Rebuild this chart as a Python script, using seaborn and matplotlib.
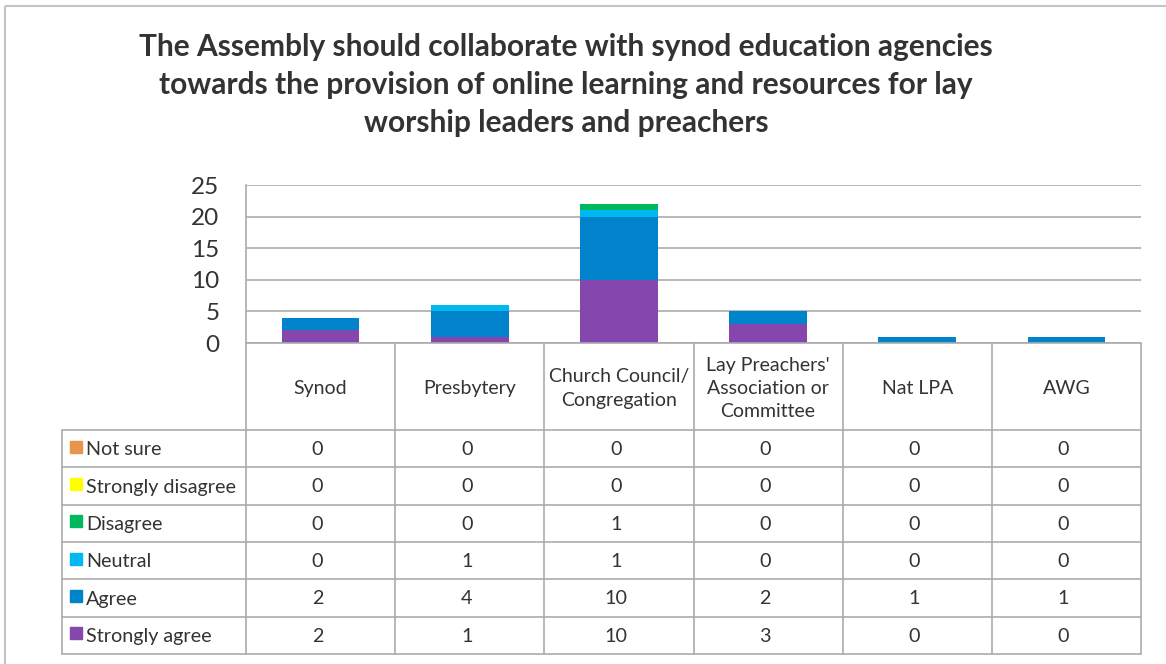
#!/usr/bin/env python3
"""Stacked bar chart with data table: Assembly / synod education agencies survey."""

import matplotlib

matplotlib.use("Agg")
import matplotlib.pyplot as plt
import seaborn as sns
from matplotlib.patches import Rectangle

W, H = 1166, 664

categories = ["Synod", "Presbytery", "Church Council/\nCongregation",
              "Lay Preachers'\nAssociation or\nCommittee", "Nat LPA", "AWG"]

# series in stacking order (bottom first)
strongly_agree = [2, 1, 10, 3, 0, 0]
agree = [2, 4, 10, 2, 1, 1]
neutral = [0, 1, 1, 0, 0, 0]
disagree = [0, 0, 1, 0, 0, 0]
strongly_disagree = [0, 0, 0, 0, 0, 0]
not_sure = [0, 0, 0, 0, 0, 0]

series_names = ["Strongly agree", "Agree", "Neutral", "Disagree",
                "Strongly disagree", "Not sure"]
series_values = [strongly_agree, agree, neutral, disagree,
                 strongly_disagree, not_sure]
series_colors = ["#8547AD", "#0083CA", "#00B8F0", "#00B85C",
                 "#FFFF00", "#E6954B"]

yticks = [0, 5, 10, 15, 20, 25]

title = ("The Assembly should collaborate with synod education agencies\n"
         "towards the provision of online learning and resources for lay\n"
         "worship leaders and preachers")

sns.set_theme(style="white")
plt.rcParams["font.family"] = ["Lato", "DejaVu Sans"]

GRID = "#ABABAB"
TXT = "#333333"

fig = plt.figure(figsize=(W / 100, H / 100), dpi=100)

# plot area in pixel coords
x0, x1 = 246, 1141
y_top, y_zero = 185, 343
ax = fig.add_axes([x0 / W, 1 - y_zero / H, (x1 - x0) / W, (y_zero - y_top) / H])

bottom = [0] * len(categories)
for name, vals, col in zip(series_names, series_values, series_colors):
    sns.barplot(x=list(range(len(categories))), y=vals, bottom=bottom,
                color=col, width=0.52, ax=ax, saturation=1,
                edgecolor="none", linewidth=0)
    bottom = [b + v for b, v in zip(bottom, vals)]

ax.set_xlim(-0.5, len(categories) - 0.5)
ax.set_ylim(0, 25)
ax.set_yticks(yticks)
ax.set_yticklabels([str(t) for t in yticks], fontsize=17.5, color=TXT)
ax.tick_params(axis="y", length=0, pad=19)
ax.set_xticks([])
ax.set_xlabel("")
ax.set_ylabel("")
for t in yticks:
    ax.axhline(t, color=GRID, lw=1.2, zorder=0)
for side in ["top", "right", "bottom"]:
    ax.spines[side].set_visible(False)
ax.spines["left"].set_color(GRID)
ax.spines["left"].set_linewidth(1.2)
ax.set_axisbelow(True)

# data table drawn in pixel coords on an overlay axes
tab = fig.add_axes([0, 0, 1, 1], facecolor="none")
tab.set_xlim(0, W)
tab.set_ylim(H, 0)
tab.axis("off")

label_x0 = 62
header_bottom = 430
row_h = (654 - header_bottom) / 6
col_w = (x1 - x0) / len(categories)
col_edges = [x0 + i * col_w for i in range(len(categories) + 1)]
row_edges = [header_bottom + i * row_h for i in range(7)]

# header row lines
for cx in col_edges:
    tab.plot([cx, cx], [y_zero, 654], color=GRID, lw=1.2)
tab.plot([x0, x1], [y_zero, y_zero], color=GRID, lw=1.2)
for ry in row_edges:
    tab.plot([label_x0, x1], [ry, ry], color=GRID, lw=1.2)
tab.plot([label_x0, label_x0], [header_bottom, 654], color=GRID, lw=1.2)

for i, cat in enumerate(categories):
    cx = x0 + (i + 0.5) * col_w
    tab.text(cx, (y_zero + header_bottom) / 2 + 2, cat, ha="center", va="center",
             fontsize=14, color=TXT, linespacing=1.45)

# rows top to bottom: Not sure ... Strongly agree
for r, idx in enumerate(reversed(range(len(series_names)))):
    cy = row_edges[r] + row_h / 2
    tab.add_patch(Rectangle((70, cy - 8), 12, 12, color=series_colors[idx]))
    tab.text(86, cy + 1, series_names[idx], ha="left", va="center",
             fontsize=14.2, color=TXT)
    for i, v in enumerate(series_values[idx]):
        tab.text(x0 + (i + 0.5) * col_w - 3, cy + 1, str(v), ha="center",
                 va="center", fontsize=14.2, color=TXT)

# outer chart border
tab.add_patch(Rectangle((5, 6), W + 20, H + 20, fill=False,
                        edgecolor="#C4C4C4", lw=1.5))

fig.text(566 / W, 1 - 85 / H, title, ha="center", va="center",
         fontsize=21.5, fontweight="bold", color=TXT, linespacing=1.42)

fig.savefig("out.png", dpi=100)
